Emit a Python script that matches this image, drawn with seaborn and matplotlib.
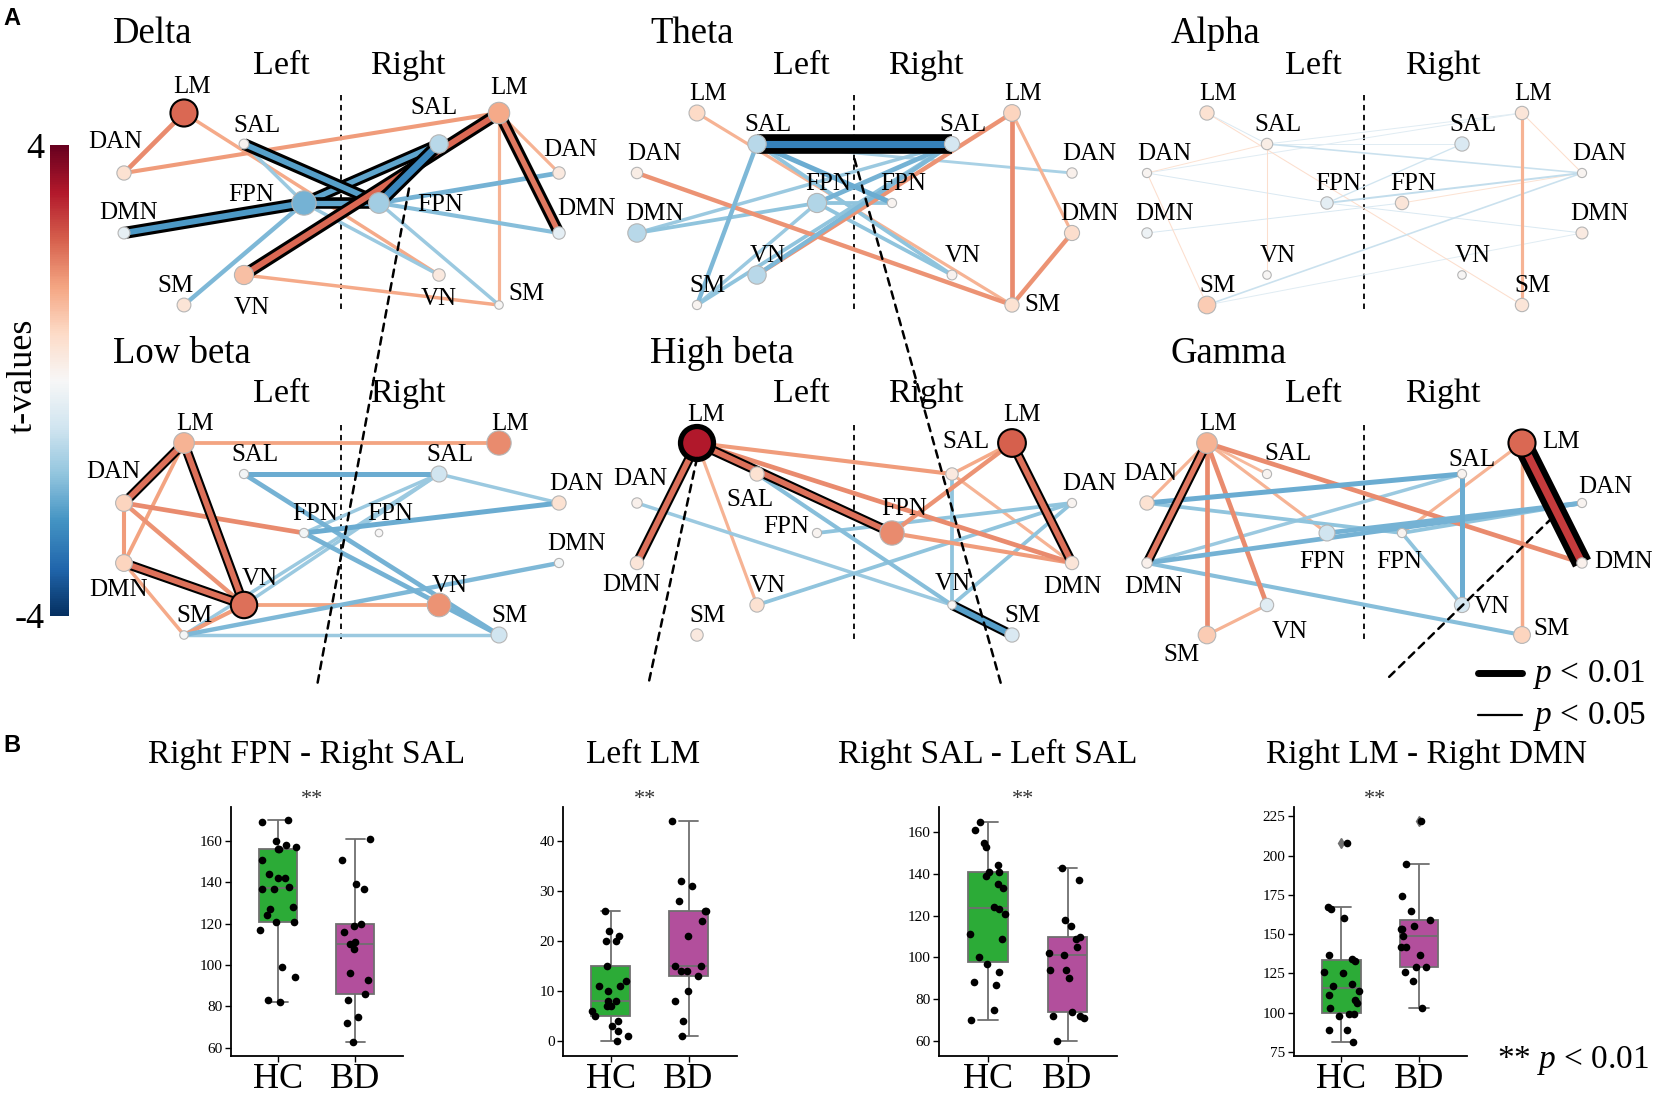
import numpy as np
import pandas as pd
import matplotlib
matplotlib.use("Agg")
import matplotlib.pyplot as plt
import matplotlib.patheffects as pe
from matplotlib.lines import Line2D
from matplotlib.patches import ConnectionPatch
from matplotlib.colors import Normalize
from matplotlib.cm import ScalarMappable
import seaborn as sns

sns.set_style("ticks")
plt.rcParams['font.family'] = ['Liberation Serif', 'DejaVu Serif']
plt.rcParams['axes.unicode_minus'] = False
plt.rcParams['mathtext.fontset'] = 'custom'
plt.rcParams['mathtext.it'] = 'Liberation Serif:italic'
plt.rcParams['mathtext.rm'] = 'Liberation Serif'
for key in ['text.color', 'axes.labelcolor', 'xtick.color', 'ytick.color']:
    plt.rcParams[key] = 'black'

# ---------------- data: panel A (t-values) ----------------
BANDS = ['Delta', 'Theta', 'Alpha', 'Low beta', 'High beta', 'Gamma']
NODES = ['L_LM', 'L_SAL', 'L_DAN', 'L_FPN', 'L_DMN', 'L_VN', 'L_SM',
         'R_LM', 'R_SAL', 'R_DAN', 'R_FPN', 'R_DMN', 'R_VN', 'R_SM']

delta_nodes = [2.3, 0.15, 0.6, -1.9, -0.35, 1.2, 0.55, 1.5, -1.1, 0.4, -1.4, -0.4, 0.4, 0.05]
theta_nodes = [0.8, -1.1, 0.3, -1.2, -1.1, -1.1, 0.1, 0.9, -0.7, 0.2, 0.1, 0.7, 0.15, 0.6]
alpha_nodes = [0.6, 0.3, 0.1, -0.4, -0.2, 0.05, 1.0, 0.5, -0.6, 0.1, 0.5, 0.35, 0.05, 0.5]
lowbeta_nodes = [1.4, -0.1, 0.9, -0.1, 0.9, 2.2, -0.05, 1.9, -0.8, 0.6, 0.0, -0.1, 1.8, -0.8]
highbeta_nodes = [3.2, 0.6, 0.2, 0.1, 0.5, 0.6, 0.4, 2.4, 0.4, 0.1, 1.9, 0.5, 0.05, -0.6]
gamma_nodes = [1.4, 0.1, 0.6, -0.8, 0.2, -0.5, 1.0, 2.3, 0.1, 0.1, 0.1, 0.2, -0.7, 0.9]

# significant nodes (1: p<0.05, 2: p<0.01)
delta_sig_nodes = {'L_LM': 1}
theta_sig_nodes = {}
alpha_sig_nodes = {}
lowbeta_sig_nodes = {'L_VN': 1}
highbeta_sig_nodes = {'L_LM': 2, 'R_LM': 1}
gamma_sig_nodes = {'R_LM': 1}

# edges: (node a, node b, t-value, significance level)
delta_edges = [
    ('L_LM', 'L_DAN', 1.9, 0), ('L_LM', 'R_VN', 1.5, 0), ('L_DAN', 'R_LM', 1.7, 0),
    ('L_SAL', 'L_FPN', -1.5, 0), ('L_FPN', 'L_SM', -1.8, 0), ('L_FPN', 'R_VN', -1.5, 0),
    ('L_VN', 'R_SM', 1.5, 0), ('R_LM', 'R_DAN', 1.4, 0), ('R_LM', 'R_SM', 1.4, 0),
    ('R_FPN', 'R_DAN', -1.9, 0), ('R_FPN', 'R_DMN', -1.7, 0), ('R_FPN', 'R_SM', -1.5, 0),
    ('L_SAL', 'R_FPN', -2.2, 2), ('L_FPN', 'L_DMN', -2.3, 2), ('L_FPN', 'R_SAL', -2.1, 2),
    ('L_FPN', 'R_FPN', -2.1, 2), ('R_FPN', 'R_SAL', -2.6, 2), ('L_VN', 'R_LM', 2.3, 2),
    ('R_LM', 'R_DMN', 2.1, 2)]
theta_edges = [
    ('L_LM', 'R_SM', 1.4, 0), ('L_DAN', 'R_SM', 1.8, 0), ('R_LM', 'L_VN', 1.8, 0),
    ('R_LM', 'R_SM', 1.9, 0), ('R_LM', 'R_DMN', 1.4, 0), ('R_DMN', 'R_SM', 1.8, 0),
    ('L_SAL', 'L_SM', -1.8, 0), ('L_SAL', 'R_FPN', -2.0, 0), ('L_SAL', 'R_VN', -1.6, 0),
    ('L_SAL', 'R_DAN', -1.3, 0), ('L_FPN', 'L_DMN', -1.6, 0), ('L_FPN', 'R_SAL', -1.9, 0),
    ('L_FPN', 'R_FPN', -1.6, 0), ('L_FPN', 'L_SM', -1.5, 0), ('L_FPN', 'R_VN', -1.6, 0),
    ('L_DMN', 'R_SAL', -1.5, 0), ('L_VN', 'R_SAL', -1.8, 0), ('L_SM', 'R_SAL', -1.6, 0),
    ('L_SAL', 'R_SAL', -2.7, 3)]
alpha_edges = [
    ('L_LM', 'L_SAL', -0.6, 0), ('L_LM', 'R_SM', 0.7, 0), ('L_SAL', 'L_DAN', 0.6, 0),
    ('L_SAL', 'L_VN', 0.7, 0), ('L_SAL', 'R_LM', -0.5, 0), ('L_SAL', 'R_SAL', -0.5, 0),
    ('L_SAL', 'R_DAN', -0.9, 0), ('L_DAN', 'L_SM', 0.7, 0), ('L_DAN', 'R_LM', -0.5, 0),
    ('L_DAN', 'L_FPN', -0.6, 0), ('L_FPN', 'R_SAL', -0.8, 0), ('L_FPN', 'R_DAN', -1.0, 0),
    ('L_FPN', 'R_DMN', -0.6, 0), ('L_DMN', 'R_FPN', -0.6, 0), ('L_SM', 'R_DAN', -0.9, 0),
    ('L_SM', 'R_DMN', -0.5, 0), ('R_FPN', 'R_DAN', 0.6, 0), ('R_LM', 'R_SM', 1.4, 0),
    ('R_LM', 'R_DAN', 0.7, 0)]
lowbeta_edges = [
    ('L_LM', 'R_LM', 1.6, 0), ('L_LM', 'L_DMN', 1.6, 0), ('L_DAN', 'L_VN', 1.8, 0),
    ('L_DAN', 'L_FPN', 1.9, 0), ('L_DAN', 'L_DMN', 1.7, 0), ('L_DMN', 'L_SM', 1.5, 0),
    ('L_SM', 'L_VN', 1.7, 0), ('L_VN', 'R_VN', 1.6, 0), ('L_SAL', 'R_SAL', -2.0, 0),
    ('L_SAL', 'R_SM', -1.9, 0), ('L_FPN', 'R_SAL', -1.5, 0), ('L_FPN', 'R_DAN', -2.0, 0),
    ('L_FPN', 'R_SM', -1.9, 0), ('L_VN', 'R_SAL', -1.5, 0), ('L_SM', 'R_DMN', -1.8, 0),
    ('L_SM', 'R_SM', -1.5, 0), ('R_SAL', 'R_DAN', -1.5, 0), ('L_SM', 'R_SAL', -1.5, 0),
    ('L_LM', 'L_DAN', 2.2, 1), ('L_LM', 'L_VN', 2.2, 1), ('L_DMN', 'L_VN', 2.2, 1)]
highbeta_edges = [
    ('L_LM', 'R_SAL', 1.7, 0), ('L_LM', 'R_DMN', 1.9, 0), ('L_LM', 'L_VN', 1.4, 0),
    ('L_SAL', 'R_VN', -1.7, 0), ('L_DAN', 'R_VN', -1.5, 0), ('L_FPN', 'R_DAN', -1.6, 0),
    ('L_VN', 'R_DAN', -1.6, 0), ('R_VN', 'R_SAL', -1.6, 0), ('R_VN', 'R_DAN', -1.6, 0),
    ('R_LM', 'R_FPN', 1.8, 0), ('R_SAL', 'R_DMN', 1.4, 0), ('R_FPN', 'R_DMN', 1.7, 0),
    ('R_LM', 'R_SAL', 1.5, 0),
    ('L_LM', 'L_DMN', 2.2, 1), ('L_LM', 'R_FPN', 2.2, 1), ('R_VN', 'R_SM', -2.2, 1),
    ('R_LM', 'R_DMN', 2.2, 1)]
gamma_edges = [
    ('L_LM', 'L_DAN', 1.4, 0), ('L_LM', 'L_SM', 1.9, 0), ('L_LM', 'L_VN', 1.9, 0),
    ('L_LM', 'L_SAL', 1.3, 0), ('L_LM', 'L_FPN', 1.4, 0), ('L_LM', 'R_DMN', 1.9, 0),
    ('L_DAN', 'R_SAL', -2.0, 0), ('L_DAN', 'R_FPN', -1.6, 0), ('L_DMN', 'R_SAL', -1.5, 0),
    ('L_DMN', 'R_DAN', -1.9, 0), ('L_DMN', 'R_SM', -1.7, 0), ('L_FPN', 'R_DAN', -1.9, 0),
    ('L_SM', 'L_VN', 1.4, 0), ('R_LM', 'R_FPN', 1.4, 0), ('R_LM', 'R_SM', 1.5, 0),
    ('R_SAL', 'R_VN', -2.0, 0), ('R_FPN', 'R_VN', -1.6, 0), ('R_FPN', 'R_DAN', -1.6, 0),
    ('L_LM', 'L_DMN', 2.1, 1), ('R_LM', 'R_DMN', 2.8, 3)]

band_nodes = [delta_nodes, theta_nodes, alpha_nodes, lowbeta_nodes, highbeta_nodes, gamma_nodes]
band_sig_nodes = [delta_sig_nodes, theta_sig_nodes, alpha_sig_nodes,
                  lowbeta_sig_nodes, highbeta_sig_nodes, gamma_sig_nodes]
band_edges = [delta_edges, theta_edges, alpha_edges, lowbeta_edges, highbeta_edges, gamma_edges]

# ---------------- data: panel B ----------------
box_titles = ['Right FPN - Right SAL', 'Left LM', 'Right SAL - Left SAL', 'Right LM - Right DMN']
hc1 = [169, 170, 160, 158, 157, 156, 156, 151, 144, 142, 142, 138, 137, 137, 127, 128, 124,
       121, 121, 117, 99, 94, 83, 82]
bd1 = [161, 151, 139, 137, 120, 119, 116, 111, 110, 108, 96, 93, 86, 83, 75, 72, 63]
hc2 = [26, 20, 20, 22, 21, 15, 12, 11, 11, 10, 8, 8, 7, 7, 6, 5, 4, 3, 2, 1, 0]
bd2 = [44, 32, 31, 28, 26, 26, 24, 21, 15, 15, 14, 14, 13, 10, 8, 4, 1]
hc3 = [165, 161, 155, 153, 144, 141, 141, 139, 135, 133, 124, 123, 121, 111, 109, 100, 97,
       93, 87, 88, 75, 70]
bd3 = [143, 137, 118, 115, 109, 110, 105, 102, 101, 94, 94, 90, 74, 72, 71, 72, 60]
hc4 = [208, 167, 166, 160, 137, 134, 133, 126, 125, 118, 114, 117, 111, 108, 106, 103, 98,
       99, 99, 89, 89, 81]
bd4 = [222, 195, 174, 165, 159, 153, 153, 155, 149, 142, 142, 137, 129, 129, 126, 120, 103]
box_hc = [hc1, hc2, hc3, hc4]
box_bd = [bd1, bd2, bd3, bd4]
box_ylims = [(56, 176.5), (-3, 46.8), (52.8, 172), (72.4, 231)]
box_yticks = [np.arange(60, 161, 20), np.arange(0, 41, 10), np.arange(60, 161, 20), np.arange(75, 226, 25)]

# ---------------- layout ----------------
W, H = 1656, 1105
COLS = [124, 184, 244, 304, 379, 439, 499, 559]
ROWS = {'LM': 113, 'SAL': 144, 'DAN': 173, 'FPN': 203, 'DMN': 233, 'VN': 275, 'SM': 305}
LEFT_COL = {'DAN': 0, 'DMN': 0, 'LM': 1, 'SM': 1, 'SAL': 2, 'VN': 2, 'FPN': 3}
RIGHT_COL = {'FPN': 4, 'SAL': 5, 'VN': 5, 'LM': 6, 'SM': 6, 'DAN': 7, 'DMN': 7}
PANEL_ORIGIN = [(0, 0), (513, 0), (1023, 0), (0, 330), (513, 330), (1023, 330)]
TITLE_X = [113, 137, 148]
TITLE_Y = [43, 33]
LR_X = [(281, 408), (288, 413), (290, 420)]
LR_Y = [74, 72]

LABEL_OFFSETS = [
    {'L_LM': (8, -28), 'L_DAN': (-9, -33), 'L_SAL': (13, -20), 'L_FPN': (-53, -10),
     'L_DMN': (4, -22), 'L_SM': (-8, -21), 'L_VN': (8, 31), 'R_SAL': (-5, -38),
     'R_FPN': (61, 0), 'R_LM': (10, -27), 'R_DAN': (11, -25), 'R_DMN': (27, -26),
     'R_VN': (0, 22), 'R_SM': (28, -13)},
    {'R_SM': (31, -2)},
    {},
    {'L_DAN': (-11, -33), 'L_DMN': (-6, 25), 'L_VN': (16, -28)},
    {'L_LM': (9, -30), 'L_DAN': (3, -26), 'L_SAL': (-7, 24), 'L_FPN': (-31, -8),
     'L_DMN': (-6, 20), 'R_LM': (10, -30), 'R_SAL': (14, -34), 'R_FPN': (12, -26),
     'R_DMN': (0, 22), 'R_VN': (1, -23)},
    {'L_SAL': (21, -22), 'L_DAN': (3, -31), 'L_FPN': (-5, 27), 'L_DMN': (6, 22),
     'L_VN': (23, 25), 'L_SM': (-25, 18), 'R_LM': (39, -3), 'R_SAL': (10, -16),
     'R_DAN': (23, -18), 'R_FPN': (-3, 27), 'R_DMN': (41, -3), 'R_VN': (30, 0),
     'R_SM': (30, -8)},
]
OUTLINE = {1: 3.0, 2: 4.5, 3: 9.0}
NODE_BORDER = {1: 1.5, 2: 3.8}

CONNECT = [(0, 'R_FPN', 'R_SAL', (317, 686)), (1, 'L_SAL', 'R_SAL', (1001, 684)),
           (4, 'L_LM', 'L_LM', (648, 686)), (5, 'R_LM', 'R_DMN', (1389, 677))]

BOX_LEFT = [231, 563, 939, 1294]
BOX_RIGHT = [403, 737, 1117, 1467]
BOX_TOP, BOX_BOTTOM = 807, 1056
BOX_TITLE_X = [307, 643, 988, 1427]
GREEN, PURPLE, GREY = '#2cab37', '#b24f9c', '#6f6f6f'

cmap = sns.color_palette("RdBu_r", as_cmap=True)
norm = Normalize(-4, 4)


def node_xy(name):
    side, net = name.split('_')
    col = LEFT_COL[net] if side == 'L' else RIGHT_COL[net]
    return COLS[col], ROWS[net]


fig = plt.figure(figsize=(W / 100, H / 100), dpi=100)

# ---------------- panel A ----------------
panel_axes = []
for i, band in enumerate(BANDS):
    ox, oy = PANEL_ORIGIN[i]
    col, row = i % 3, i // 3
    ax = fig.add_axes([ox / W, 1 - (oy + 330) / H, 600 / W, 330 / H])
    ax.set_xlim(0, 600)
    ax.set_ylim(330, 0)
    ax.axis('off')
    panel_axes.append(ax)

    ax.text(TITLE_X[col], TITLE_Y[row], band, fontsize=26.5, ha='left', va='baseline')
    ax.text(LR_X[col][0], LR_Y[row], 'Left', fontsize=24.5, ha='center', va='baseline')
    ax.text(LR_X[col][1], LR_Y[row], 'Right', fontsize=24.5, ha='center', va='baseline')
    ax.plot([341.5, 341.5], [95, 312], color='black', lw=1.3, ls=(0, (3, 2.5)), zorder=0.5)

    for a, b, t, sig in band_edges[i]:
        (x1, y1), (x2, y2) = node_xy(a), node_xy(b)
        lw = max(0.7, 2.2 * abs(t) - 0.8)
        effects = None
        if sig:
            effects = [pe.Stroke(linewidth=lw + OUTLINE[sig], foreground='black'), pe.Normal()]
        ax.plot([x1, x2], [y1, y2], color=cmap(norm(t)), lw=lw, solid_capstyle='butt',
                path_effects=effects, zorder=1 + sig * 0.2 + abs(t) * 0.01)

    xs, ys, sizes, cols, ecs, lws = [], [], [], [], [], []
    for name, t in zip(NODES, band_nodes[i]):
        x, y = node_xy(name)
        r = (3.8 + 5 * abs(t) ** 0.8) * 0.72
        xs.append(x)
        ys.append(y)
        sizes.append((2 * r) ** 2)
        cols.append(cmap(norm(t)))
        s = band_sig_nodes[i].get(name, 0)
        ecs.append('black' if s else '#b5b5b5')
        lws.append(NODE_BORDER[s] if s else 0.8)
        dx, dy = LABEL_OFFSETS[i].get(name, (17 if name[2:] in ('DAN', 'DMN') else 11, -21))
        ax.text(x + dx, y + dy + 2, name[2:], fontsize=18, ha='center', va='center', zorder=6)
    ax.scatter(xs, ys, s=sizes, c=cols, edgecolors=ecs, linewidths=lws, zorder=5)

# colour bar
cax = fig.add_axes([50 / W, 1 - 616 / H, 19 / W, 471 / H])
cb = fig.colorbar(ScalarMappable(norm=norm, cmap=cmap), cax=cax)
cb.outline.set_visible(False)
cb.set_ticks([-4, 4])
cax.yaxis.set_ticks_position('left')
cax.tick_params(length=0, labelsize=26, pad=4)
fig.text(23 / W, 1 - 376 / H, 't-values', rotation=90, fontsize=26, ha='center', va='center')

# significance legend
fig.add_artist(Line2D([1478 / W, 1522 / W], [1 - 673 / H] * 2, color='black', lw=5))
fig.add_artist(Line2D([1478 / W, 1522 / W], [1 - 715 / H] * 2, color='black', lw=1.6))
fig.text(1533 / W, 1 - 682 / H, '$p$ < 0.01', fontsize=24, ha='left', va='baseline')
fig.text(1533 / W, 1 - 724 / H, '$p$ < 0.05', fontsize=24, ha='left', va='baseline')

# panel letters
fig.text(3 / W, 1 - 25 / H, 'A', fontsize=17, fontweight='bold', family='Liberation Sans',
         ha='left', va='baseline')
fig.text(3 / W, 1 - 752 / H, 'B', fontsize=17, fontweight='bold', family='Liberation Sans',
         ha='left', va='baseline')

# ---------------- panel B ----------------
np.random.seed(7)
box_axes = []
for k in range(4):
    ax = fig.add_axes([BOX_LEFT[k] / W, 1 - BOX_BOTTOM / H,
                       (BOX_RIGHT[k] - BOX_LEFT[k]) / W, (BOX_BOTTOM - BOX_TOP) / H])
    box_axes.append(ax)
    df = pd.DataFrame({'group': ['HC'] * len(box_hc[k]) + ['BD'] * len(box_bd[k]),
                       'value': box_hc[k] + box_bd[k]})
    sns.boxplot(data=df, x='group', y='value', hue='group', order=['HC', 'BD'],
                hue_order=['HC', 'BD'], palette={'HC': GREEN, 'BD': PURPLE}, saturation=1,
                width=0.5, linecolor=GREY, linewidth=1.3, fliersize=5, legend=False,
                flierprops=dict(marker='d', markerfacecolor=GREY, markeredgecolor=GREY),
                ax=ax)
    sns.stripplot(data=df, x='group', y='value', order=['HC', 'BD'], color='black',
                  size=5.5, jitter=0.24, ax=ax, zorder=4)
    ax.set_xlim(-0.61, 1.62)
    ax.set_ylim(*box_ylims[k])
    ax.set_yticks(box_yticks[k])
    ax.set_xlabel('')
    ax.set_ylabel('')
    ax.tick_params(axis='y', labelsize=11, length=4, width=1, pad=2, colors='black')
    ax.tick_params(axis='x', labelsize=26, length=4, width=1, pad=1, colors='black')
    for sp in ['left', 'bottom']:
        ax.spines[sp].set_linewidth(1.3)
        ax.spines[sp].set_color('black')
    sns.despine(ax=ax)
    fig.text(BOX_TITLE_X[k] / W, 1 - 763 / H, box_titles[k], fontsize=24,
             ha='center', va='baseline')
    ax.text(0.47, 1 + (BOX_TOP - 804) / (BOX_BOTTOM - BOX_TOP), '**', fontsize=16,
            ha='center', va='baseline', transform=ax.transAxes, color='#333333')

fig.text(1497 / W, 1 - 1068 / H, '** $p$ < 0.01', fontsize=24, ha='left', va='baseline')

# dashed connectors from panel A edges to panel B plots
for i, a, b, end in CONNECT:
    (x1, y1), (x2, y2) = node_xy(a), node_xy(b)
    start = ((x1 + x2) / 2, (y1 + y2) / 2 + 15)
    con = ConnectionPatch(xyA=start, coordsA=panel_axes[i].transData,
                          xyB=(end[0] / W, 1 - end[1] / H), coordsB=fig.transFigure,
                          color='black', lw=1.8, ls=(0, (3, 2.5)))
    fig.add_artist(con)

fig.savefig('out.png', dpi=100)
